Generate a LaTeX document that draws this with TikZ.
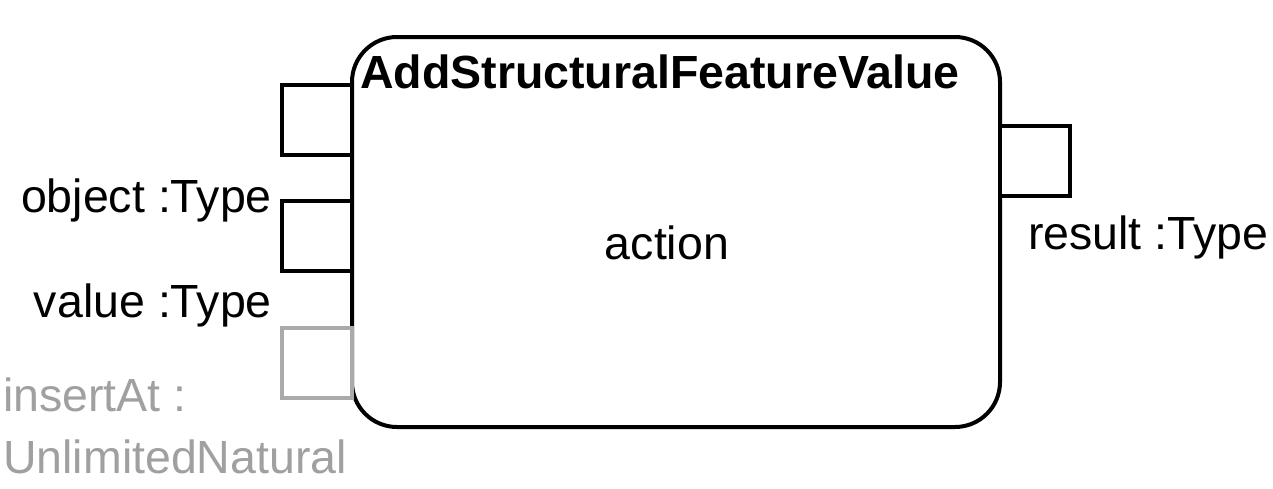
\documentclass[tikz,border=0pt]{standalone}
\usepackage{fontspec}
\setmainfont{Liberation Sans}
\usetikzlibrary{positioning}
\definecolor{cGrayPin}{HTML}{AAAAAA}
\definecolor{cGrayText}{HTML}{A0A0A0}
\tikzset{pinbox/.style={draw, fill=white, line width=4pt, minimum size=70pt, inner sep=0pt},
	lbl/.style={inner sep=0pt}}

\begin{document}
\begin{tikzpicture}[x=1pt, y=-1pt, font=\fontsize{46.5}{56}\selectfont]
	\useasboundingbox (0,0) rectangle (1273,488);
	%action body
	\node (act) [draw, line width=4pt, rounded corners=45pt, minimum width=648pt, minimum height=390pt, inner sep=0pt] at (676,232) {};
	\node (actName) [lbl, anchor=base west] at (360,88) {\textbf{AddStructuralFeatureValue}};
	\node (actLbl) [lbl] at (667,243) {action};
	
	%input pins
	\node (pinA) [pinbox] at (317,120) {};
	\node (pinObject) [pinbox] at (317,236) {};
	\node (pinValue) [pinbox, draw=cGrayPin] at (317,363) {};
	%output pin
	\node (pinResult) [pinbox] at (1035,161) {};
	
	%pin labels
	\node (lObject) [lbl, anchor=base east] at (272,212) {object :Type};
	\node (lValue) [lbl, anchor=base east] at (272,317) {value :Type};
	\node (lInsert) [lbl, anchor=base west, text=cGrayText] at (3,411) {insertAt :};
	\node (lNatural) [lbl, anchor=base west, text=cGrayText] at (3,473) {UnlimitedNatural};
	\node (lResult) [lbl, anchor=base west] at (1028,249) {result :Type};
\end{tikzpicture}
\end{document}
